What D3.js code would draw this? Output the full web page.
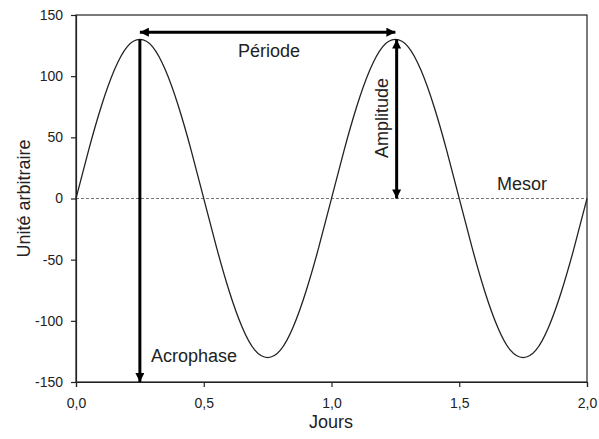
<!DOCTYPE html>
<html>
<head>
<meta charset="utf-8">
<script src="https://cdn.jsdelivr.net/npm/d3@7"></script>
<style>
  html, body { margin: 0; padding: 0; background: #fff; }
  svg { display: block; font-family: "Liberation Sans", Arial, sans-serif; }
</style>
</head>
<body>
<svg id="chart" width="599" height="439"></svg>
<script>
// Data
const days = [0,0.05,0.1,0.15,0.2,0.25,0.3,0.35,0.4,0.45,0.5,0.55,0.6,0.65,0.7,0.75,0.8,0.85,0.9,0.95,1.0,
              1.05,1.1,1.15,1.2,1.25,1.3,1.35,1.4,1.45,1.5,1.55,1.6,1.65,1.7,1.75,1.8,1.85,1.9,1.95,2.0];
const values = [0,40,76,105,124,130,124,105,76,40,0,-40,-76,-105,-124,-130,-124,-105,-76,-40,0,
                40,76,105,124,130,124,105,76,40,0,-40,-76,-105,-124,-130,-124,-105,-76,-40,0];
const xTicks = [0,0.5,1.0,1.5,2.0];
const yTicks = [-150,-100,-50,0,50,100,150];
const mesor = 0;
const periodArrow = {x1: 0.25, x2: 1.25, y: 136, label: "Période"};
const amplitudeArrow = {x: 1.255, y1: 130, y2: 0, label: "Amplitude"};
const acrophaseArrow = {x: 0.25, y1: 130, y2: -150, label: "Acrophase"};
const xLabel = "Jours";
const yLabel = "Unité arbitraire";
const mesorLabel = "Mesor";

const svg = d3.select("#chart");
const W = 599, H = 439;
const m = {left: 76, right: 12, top: 15, bottom: 57};
const iw = W - m.left - m.right, ih = H - m.top - m.bottom;

const x = d3.scaleLinear().domain([0, 2]).range([m.left, m.left + iw]);
const y = d3.scaleLinear().domain([-150, 150]).range([m.top + ih, m.top]);

const defs = svg.append("defs");
defs.append("marker").attr("id", "ah")
  .attr("viewBox", "0 0 10 10").attr("refX", 10).attr("refY", 5)
  .attr("markerUnits", "userSpaceOnUse")
  .attr("markerWidth", 12).attr("markerHeight", 9)
  .attr("orient", "auto-start-reverse")
  .append("path").attr("d", "M0,0 L10,5 L0,10 Z").attr("fill", "#000");

// frame
svg.append("rect").attr("x", m.left).attr("y", m.top).attr("width", iw).attr("height", ih)
  .attr("fill", "none").attr("stroke", "#222").attr("stroke-width", 1.2);

// mesor dashed line
svg.append("line").attr("x1", x(0)).attr("x2", x(2)).attr("y1", y(mesor)).attr("y2", y(mesor))
  .attr("stroke", "#555").attr("stroke-width", 0.8).attr("stroke-dasharray", "3,2");

// axes
const fmt = d3.format(".1f");
const gx = svg.append("g").attr("transform", `translate(0,${m.top + ih})`)
  .call(d3.axisBottom(x).tickValues(xTicks).tickSize(5).tickPadding(11)
        .tickFormat(d => fmt(d).replace(".", ",")));
const gy = svg.append("g").attr("transform", `translate(${m.left},0)`)
  .call(d3.axisLeft(y).tickValues(yTicks).tickSize(5).tickPadding(8)
        .tickFormat(d => String(d)));
[gx, gy].forEach(g => {
  g.select(".domain").attr("stroke", "#222").attr("stroke-width", 1.2);
  g.selectAll(".tick line").attr("stroke", "#222").attr("stroke-width", 1.2);
  g.selectAll(".tick text").attr("fill", "#222").style("font-size", "14px")
    .style("font-family", "'Liberation Sans', Arial, sans-serif");
});

// curve
const pts = days.map((d, i) => [d, values[i]]);
svg.append("path").datum(pts)
  .attr("d", d3.line().x(d => x(d[0])).y(d => y(d[1])).curve(d3.curveNatural))
  .attr("fill", "none").attr("stroke", "#222").attr("stroke-width", 1.3);

// arrows
const arrowW = 3;
svg.append("line")
  .attr("x1", x(periodArrow.x1)).attr("x2", x(periodArrow.x2))
  .attr("y1", y(periodArrow.y)).attr("y2", y(periodArrow.y))
  .attr("stroke", "#000").attr("stroke-width", arrowW)
  .attr("marker-start", "url(#ah)").attr("marker-end", "url(#ah)");
svg.append("line")
  .attr("x1", x(amplitudeArrow.x)).attr("x2", x(amplitudeArrow.x))
  .attr("y1", y(amplitudeArrow.y1)).attr("y2", y(amplitudeArrow.y2))
  .attr("stroke", "#000").attr("stroke-width", arrowW)
  .attr("marker-start", "url(#ah)").attr("marker-end", "url(#ah)");
svg.append("line")
  .attr("x1", x(acrophaseArrow.x)).attr("x2", x(acrophaseArrow.x))
  .attr("y1", y(acrophaseArrow.y1)).attr("y2", y(acrophaseArrow.y2))
  .attr("stroke", "#000").attr("stroke-width", arrowW)
  .attr("marker-end", "url(#ah)");

// labels
const lab = svg.append("g").attr("fill", "#222").style("font-size", "18px");
lab.append("text").attr("x", 269).attr("y", 57).attr("text-anchor", "middle").text(periodArrow.label);
lab.append("text").attr("transform", "translate(388,118) rotate(-90)").attr("text-anchor", "middle").text(amplitudeArrow.label);
lab.append("text").attr("x", 151).attr("y", 362).text(acrophaseArrow.label);
lab.append("text").attr("x", 522).attr("y", 190).attr("text-anchor", "middle").text(mesorLabel);
lab.append("text").attr("x", 331).attr("y", 428).attr("text-anchor", "middle").text(xLabel);
lab.append("text").attr("transform", `translate(30,${m.top + ih / 2}) rotate(-90)`).attr("text-anchor", "middle").text(yLabel);
</script>
</body>
</html>
